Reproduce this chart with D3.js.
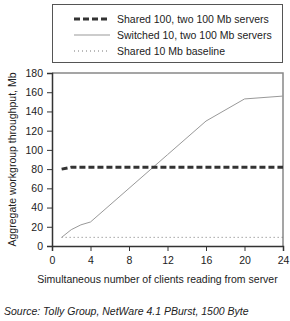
<!DOCTYPE html>
<meta charset="utf-8">
<script src="https://d3js.org/d3.v7.min.js"></script>
<style>
  body { margin: 0; background: #fff; }
  text { font-family: "Liberation Sans", Arial, sans-serif; fill: #222; }
</style>
<div id="chart"></div>
<script>

// data
var clients = [1, 2, 3, 4, 8, 12, 16, 20, 24];
var shared100 = [80, 82, 82, 82, 82, 82, 82, 82, 82];
var switched10 = [9, 17, 22, 25, 60, 95, 130, 153, 156];
var shared10 = [9, 9, 9, 9, 9, 9, 9, 9, 9];
var seriesNames = ["Shared 100, two 100 Mb servers", "Switched 10, two 100 Mb servers", "Shared 10 Mb baseline"];
var xTicks = [0, 4, 8, 12, 16, 20, 24];
var yTicks = [0, 20, 40, 60, 80, 100, 120, 140, 160, 180];

var W = 290, H = 321;
var mLeft = 52, mRight = 283, mTop = 73, mBottom = 246;
var fs = 10.5;

var svg = d3.select("#chart").append("svg")
  .attr("width", W)
  .attr("height", H);

var x = d3.scaleLinear().domain([0, 24]).range([mLeft, mRight]);
var y = d3.scaleLinear().domain([0, 180]).range([mBottom, mTop]);

// legend box
svg.append("rect")
  .attr("x", 52.5).attr("y", 4.5)
  .attr("width", 230).attr("height", 58)
  .attr("fill", "none").attr("stroke", "#555").attr("stroke-width", 1);

var styles = [
  {stroke: "#333", width: 3, dash: "6,3"},
  {stroke: "#999", width: 1, dash: null},
  {stroke: "#777", width: 1, dash: "1,3"}
];

var leg = svg.selectAll(".leg")
  .data(seriesNames)
  .enter().append("g")
  .attr("transform", function(d, i) { return "translate(0," + (19 + i * 16) + ")"; });

leg.append("line")
  .attr("x1", 74).attr("x2", 110)
  .attr("stroke", function(d, i) { return styles[i].stroke; })
  .attr("stroke-width", function(d, i) { return styles[i].width; })
  .attr("stroke-dasharray", function(d, i) { return styles[i].dash; });

leg.append("text")
  .attr("x", 117).attr("dy", "0.35em")
  .attr("font-size", fs)
  .text(function(d) { return d; });

// frame top and right
svg.append("path")
  .attr("d", "M" + mLeft + "," + mTop + "H" + mRight + "V" + mBottom)
  .attr("fill", "none").attr("stroke", "#888").attr("stroke-width", 1.5);

// axes
var yAxis = svg.append("g")
  .attr("transform", "translate(" + mLeft + ",0)")
  .call(d3.axisLeft(y).tickValues(yTicks).tickSize(5).tickPadding(4));
var xAxis = svg.append("g")
  .attr("transform", "translate(0," + mBottom + ")")
  .call(d3.axisBottom(x).tickValues(xTicks).tickSize(5).tickPadding(6));

[xAxis, yAxis].forEach(function(a) {
  a.select(".domain").attr("stroke", "#333").attr("stroke-width", 1.5);
  a.selectAll(".tick line").attr("stroke", "#333");
  a.selectAll("text").attr("font-size", fs)
    .style("font-family", "'Liberation Sans', Arial, sans-serif").attr("fill", "#222");
});

// lines
var allSeries = [shared10, switched10, shared100];
var order = [2, 1, 0];
allSeries.forEach(function(vals, k) {
  var s = styles[order[k]];
  var line = d3.line()
    .x(function(d, i) { return x(clients[i]); })
    .y(function(d) { return y(d); });
  svg.append("path")
    .datum(vals)
    .attr("d", line)
    .attr("fill", "none")
    .attr("stroke", s.stroke)
    .attr("stroke-width", s.width)
    .attr("stroke-dasharray", s.dash);
});

// axis titles
svg.append("text")
  .attr("transform", "translate(16," + ((mTop + mBottom) / 2) + ") rotate(-90)")
  .attr("text-anchor", "middle")
  .attr("font-size", fs)
  .text("Aggregate workgroup throughput, Mb");

svg.append("text")
  .attr("x", (mLeft + mRight) / 2 - 10).attr("y", 283)
  .attr("text-anchor", "middle")
  .attr("font-size", fs)
  .text("Simultaneous number of clients reading from server");

svg.append("text")
  .attr("x", 4).attr("y", 315)
  .attr("font-size", fs)
  .attr("font-style", "italic")
  .attr("fill", "#444")
  .text("Source: Tolly Group, NetWare 4.1 PBurst, 1500 Byte");

</script>
